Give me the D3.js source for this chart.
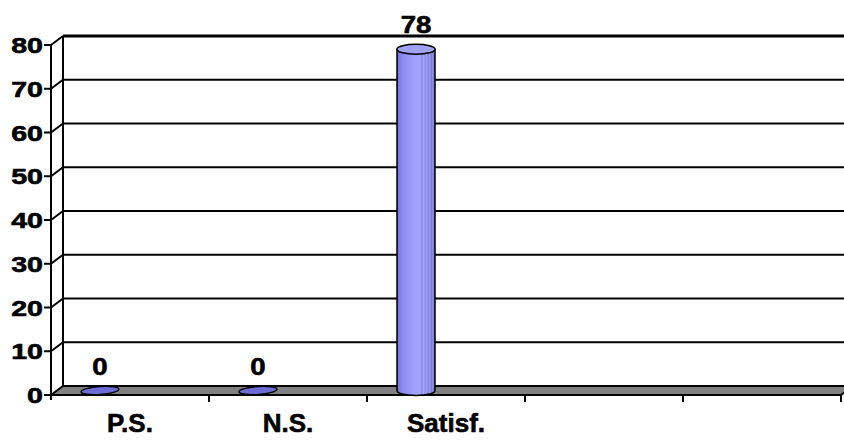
<!DOCTYPE html>
<html><head><meta charset="utf-8">
<script src="https://cdn.jsdelivr.net/npm/d3@7"></script>
<style>
html,body{margin:0;padding:0;background:#fff;}
svg{display:block;font-family:Arial,"Liberation Sans",sans-serif;font-weight:bold;}
svg text{stroke:#000;stroke-width:0.6px;fill:#000;}
</style></head>
<body><svg id="c" width="844" height="441"></svg>
<script>
const categories = ["P.S.", "N.S.", "Satisf.", "", ""];
const values = [0, 0, 78, null, null];
const yTicks = [0, 10, 20, 30, 40, 50, 60, 70, 80];

const W = 844, H = 441;
const dx = 12, dy = -9;           // depth offset of the back wall
const svg = d3.select("#c");
const y = d3.scaleLinear().domain([0, 80]).range([395, 45]);
const x = d3.scaleBand().domain(categories.map((c, i) => i)).range([51, 841]).padding(0);
const x0 = 51, x1 = 841;

// gradient for cylinder body
const defs = svg.append("defs");
const g = defs.append("linearGradient").attr("id", "cyl").attr("x1", "0").attr("x2", "1").attr("y1", "0").attr("y2", "0");
[[0,"#6060c0"],[0.06,"#8080e2"],[0.2,"#9090f4"],[0.45,"#9e9eff"],[0.6,"#a6a6ff"],
 [0.66,"#8c8ce6"],[0.7,"#a8a8ff"],[0.74,"#8888e0"],[0.78,"#a2a2f8"],[0.82,"#8282d8"],
 [0.86,"#9a9af0"],[0.9,"#7c7cd0"],[0.94,"#9090e4"],[1,"#6666b4"]].forEach(s =>
  g.append("stop").attr("offset", s[0]).attr("stop-color", s[1]));

// floor
const fy = y(0);
svg.append("path")
  .attr("d", `M${x0},${fy} L${x0+dx},${fy+dy} L${x1+dx},${fy+dy} L${x1},${fy} Z`)
  .attr("fill", "#808080").attr("stroke", "#000").attr("stroke-width", 2);

// back wall left edge and gridlines
svg.append("line").attr("x1", x0+dx).attr("x2", x0+dx).attr("y1", y(80)+dy).attr("y2", y(0)+dy)
  .attr("stroke", "#000").attr("stroke-width", 2);
yTicks.filter(t => t > 0).forEach(t => {
  const yy = y(t);
  svg.append("line").attr("x1", x0+dx).attr("x2", W+20).attr("y1", yy+dy).attr("y2", yy+dy)
    .attr("stroke", "#000").attr("stroke-width", t === 80 ? 3 : 2);
  svg.append("line").attr("x1", x0).attr("x2", x0+dx).attr("y1", yy).attr("y2", yy+dy)
    .attr("stroke", "#000").attr("stroke-width", 2);
});

// y axis
svg.append("line").attr("x1", x0).attr("x2", x0).attr("y1", y(80)).attr("y2", y(0)+5)
  .attr("stroke", "#000").attr("stroke-width", 2);
yTicks.forEach(t => {
  svg.append("line").attr("x1", x0-7).attr("x2", x0).attr("y1", y(t)).attr("y2", y(t))
    .attr("stroke", "#000").attr("stroke-width", 2);
  svg.append("text").attr("transform", `translate(43,${y(t)+8}) scale(1.3,1)`)
    .attr("text-anchor", "end").attr("font-size", 22).text(t);
});

// category ticks and labels
categories.forEach((c, i) => {
  const xe = x(i) + x.bandwidth();
  svg.append("line").attr("x1", xe).attr("x2", xe).attr("y1", fy).attr("y2", fy+7)
    .attr("stroke", "#000").attr("stroke-width", 2);
  if (c) svg.append("text").attr("x", x(i) + x.bandwidth()/2).attr("y", 432)
    .attr("text-anchor", "middle").attr("font-size", 26).text(c);
});

// cylinders
const rx = 19, ry = 5;
values.forEach((v, i) => {
  if (v === null) return;
  const cx = x(i) + x.bandwidth()/2 - 30;
  const by = y(0) + dy/2;
  const ty = y(v) + dy/2;
  if (v > 0) {
    svg.append("path")
      .attr("d", `M${cx-rx},${ty} L${cx-rx},${by} A${rx},${ry} 0 0 0 ${cx+rx},${by} L${cx+rx},${ty} Z`)
      .attr("fill", "url(#cyl)").attr("stroke", "#000").attr("stroke-width", 1.5);
    svg.append("ellipse").attr("cx", cx).attr("cy", ty).attr("rx", rx).attr("ry", ry)
      .attr("fill", "#a2a2f4").attr("stroke", "#000").attr("stroke-width", 1.5);
  } else {
    svg.append("ellipse").attr("cx", cx).attr("cy", ty).attr("rx", rx).attr("ry", ry-1)
      .attr("transform", `rotate(-4,${cx},${ty})`)
      .attr("fill", "#6c6cd4").attr("stroke", "#000").attr("stroke-width", 1.5);
  }
  svg.append("text").attr("transform", `translate(${cx},${ty - 16}) scale(1.15,1)`)
    .attr("text-anchor", "middle").attr("font-size", 24).text(v);
});
</script></body></html>
